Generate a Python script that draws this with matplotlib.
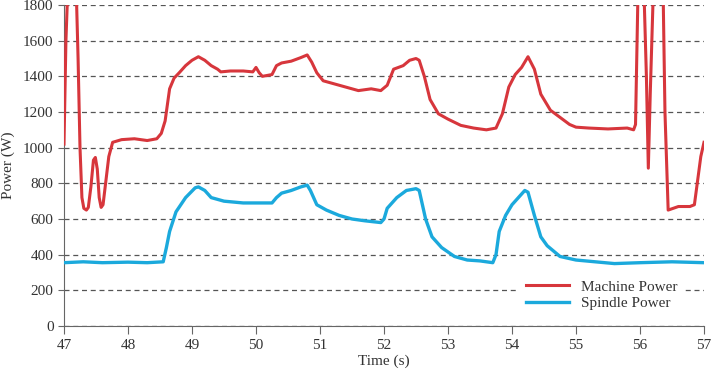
import numpy as np
import matplotlib.pyplot as plt

plt.rcParams['font.family'] = ['Liberation Serif', 'DejaVu Serif']

# machine power (W)
machine_t = [47.0, 47.03, 47.06, 47.19, 47.22, 47.25, 47.28, 47.31, 47.35, 47.38, 47.42, 47.46,
             47.49, 47.52, 47.55, 47.58, 47.61, 47.65, 47.70, 47.76, 47.9, 48.1, 48.3, 48.45,
             48.52, 48.58, 48.65, 48.72, 48.8,
             48.9, 49.0, 49.1, 49.2, 49.3, 49.4, 49.45, 49.6, 49.8, 49.95, 50.0, 50.05, 50.1,
             50.25, 50.32, 50.4, 50.55, 50.7, 50.8, 50.87, 50.95, 51.05, 51.2, 51.4, 51.6,
             51.8, 51.95, 52.05, 52.15, 52.3, 52.4, 52.5, 52.55, 52.63, 52.72, 52.85, 53.0,
             53.2, 53.4, 53.6, 53.75, 53.85, 53.95, 54.05, 54.15, 54.25, 54.35, 54.45, 54.6,
             54.75, 54.9, 55.0, 55.2, 55.5, 55.8, 55.9, 55.93, 55.97, 56.06, 56.1, 56.13,
             56.16, 56.21, 56.36, 56.39, 56.44, 56.6, 56.78, 56.85, 56.95, 57.0]
machine_p = [1020, 1600, 1900, 1900, 1500, 1000, 720, 660, 650, 665, 780, 930,
             945, 880, 720, 665, 680, 800, 950, 1030, 1045, 1050, 1040, 1050,
             1080, 1150, 1330, 1390, 1420,
             1460, 1490, 1510, 1490, 1460, 1440, 1425, 1430, 1430, 1425, 1450, 1420, 1400,
             1410, 1460, 1475, 1485, 1505, 1520, 1480, 1420, 1375, 1360, 1340, 1320,
             1330, 1320, 1350, 1440, 1460, 1490, 1500, 1490, 1400, 1270, 1190, 1160,
             1125, 1110, 1100, 1110, 1190, 1340, 1410, 1450, 1510, 1440, 1300, 1210,
             1170, 1130, 1115, 1110, 1105, 1110, 1100, 1130, 1900, 1900, 1400, 885,
             1300, 1900, 1900, 1200, 650, 670, 670, 680, 950, 1030]

# spindle power (W)
spindle_t = [47.0, 47.3, 47.6, 48.0, 48.3, 48.55, 48.6, 48.65, 48.75, 48.9, 49.05, 49.1,
             49.2, 49.3, 49.5, 49.8, 50.0, 50.25, 50.32, 50.4, 50.55, 50.7, 50.8, 50.85,
             50.95, 51.1, 51.3, 51.5, 51.7, 51.95, 52.0, 52.05, 52.2, 52.35, 52.5, 52.55,
             52.65, 52.75, 52.9, 53.1, 53.3, 53.5, 53.7, 53.75, 53.8, 53.9, 54.0, 54.1, 54.2,
             54.25, 54.35, 54.45, 54.55, 54.75, 55.0, 55.3, 55.6, 56.0, 56.5, 57.0]
spindle_p = [355, 360, 355, 358, 355, 360, 440, 530, 640, 720, 775, 780,
             760, 720, 700, 690, 690, 690, 720, 745, 760, 780, 790, 760,
             680, 650, 620, 600, 590, 580, 600, 660, 720, 760, 770, 760,
             600, 500, 440, 390, 370, 365, 355, 400, 530, 620, 680, 720, 760,
             750, 620, 500, 450, 390, 370, 360, 350, 355, 360, 355]

red = '#d7363c'
cyan = '#1ba9dc'

fig = plt.figure(figsize=(7.13, 3.76), dpi=100)
ax = fig.add_axes([64 / 713, 50 / 376, 640 / 713, 321 / 376])

ax.plot(machine_t, machine_p, color=red, lw=2.2, label='Machine Power', zorder=3)
ax.plot(spindle_t, spindle_p, color=cyan, lw=2.4, label='Spindle Power', zorder=3)

ax.set_xlim(47, 57)
ax.set_ylim(0, 1800)
ax.set_xticks(np.arange(47, 58, 1))
ax.set_yticks(np.arange(0, 1801, 200))
ax.yaxis.grid(True, linestyle=(0, (4, 3)), color='#555555', lw=0.9)
ax.set_axisbelow(True)

for s in ['top', 'right']:
    ax.spines[s].set_visible(False)
for s in ['left', 'bottom']:
    ax.spines[s].set_color('#666666')
ax.tick_params(axis='x', length=6, color='#666666', labelsize=11, labelcolor='#333333')
ax.tick_params(axis='y', length=4, color='#666666', labelsize=11, labelcolor='#333333')

ax.set_xlabel('Time (s)', fontsize=11, color='#333333', labelpad=2)
ax.set_ylabel('Power (W)', fontsize=11, color='#333333', labelpad=6)

leg = ax.legend(loc='lower right', bbox_to_anchor=(0.975, 0.015), fontsize=11,
                frameon=True, facecolor='white', edgecolor='none', framealpha=1,
                handlelength=2.8, borderpad=0.5, labelspacing=0.2, borderaxespad=0.2)
for t in leg.get_texts():
    t.set_color('#333333')

fig.savefig('out.png', dpi=100)
